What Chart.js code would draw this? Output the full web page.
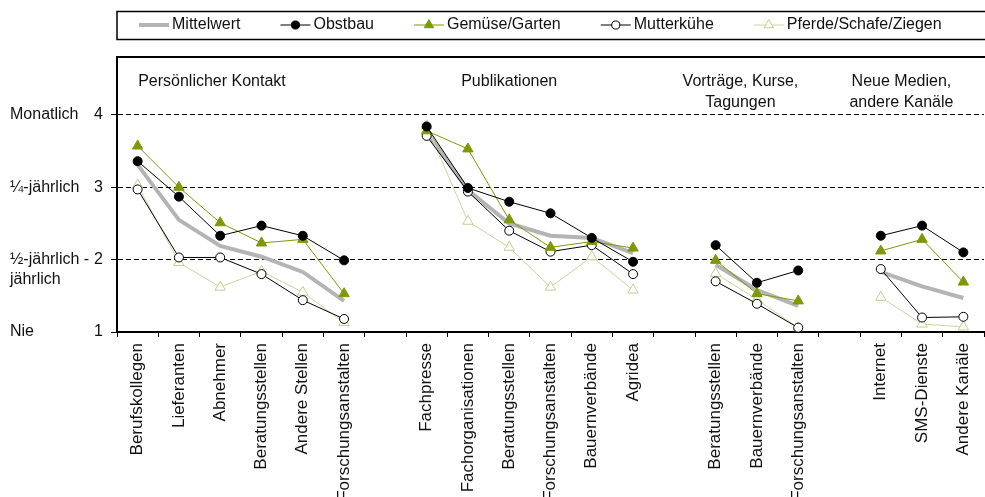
<!DOCTYPE html>
<html>
<head>
<meta charset="utf-8">
<script src="https://cdn.jsdelivr.net/npm/chart.js@4.4.1/dist/chart.umd.min.js"></script>
<style>
html,body{margin:0;padding:0;overflow:hidden;background:#fff}
canvas{display:block}
</style>
</head>
<body>
<canvas id="chart" width="991" height="497"></canvas>
<script>
// categories, '' = empty slot between the four groups
const labels = ['Berufskollegen','Lieferanten','Abnehmer','Beratungsstellen','Andere Stellen','Forschungsanstalten','',
  'Fachpresse','Fachorganisationen','Beratungsstellen','Forschungsanstalten','Bauernverbände','Agridea','',
  'Beratungsstellen','Bauernverbände','Forschungsanstalten','',
  'Internet','SMS-Dienste','Andere Kanäle'];

const mittelwert = [3.31,2.55,2.19,2.04,1.83,1.43,null, 3.77,2.96,2.50,2.33,2.30,2.09,null, 1.93,1.58,1.36,null, 1.83,1.63,1.47];
const obstbau    = [3.36,2.87,2.33,2.47,2.33,1.99,null, 3.84,2.99,2.80,2.64,2.30,1.97,null, 2.20,1.68,1.85,null, 2.33,2.47,2.10];
const gemuese    = [3.57,3.00,2.51,2.23,2.28,1.53,null, 3.78,3.53,2.55,2.17,2.25,2.16,null, 1.99,1.53,1.43,null, 2.12,2.28,1.69];
const mutterkuehe= [2.97,2.03,2.03,1.80,1.44,1.18,null, 3.71,2.94,2.40,2.11,2.20,1.80,null, 1.70,1.39,1.06,null, 1.87,1.20,1.21];
const pferde     = [3.03,1.96,1.62,1.84,1.55,1.13,null, 3.85,2.53,2.17,1.62,2.04,1.58,null, 1.81,1.45,1.06,null, 1.48,1.11,1.07];

const groupTitles = [['Persönlicher Kontakt'], ['Publikationen'], ['Vorträge, Kurse,', 'Tagungen'], ['Neue Medien,', 'andere Kanäle']];
const yTicks = [1, 2, 3, 4];
const yNames = [['Nie'], ['½-jährlich -', 'jährlich'], ['¼-jährlich'], ['Monatlich']];

const FONT = '"Liberation Sans", Arial, sans-serif';
const TXT = '#111';
Chart.defaults.font.family = FONT;

function marker(ctx, style, x, y, r, fill, stroke) {
  ctx.beginPath();
  if (style === 'triangle') {
    for (let k = 0; k < 3; k++) {
      const a = k * 2 * Math.PI / 3;
      const px = x + Math.sin(a) * r, py = y - Math.cos(a) * r;
      k ? ctx.lineTo(px, py) : ctx.moveTo(px, py);
    }
    ctx.closePath();
  } else {
    ctx.arc(x, y, r, 0, Math.PI * 2);
  }
  ctx.fillStyle = fill; ctx.fill();
  ctx.lineWidth = 1; ctx.strokeStyle = stroke; ctx.stroke();
}

// frame, legend box, group titles and the verbal y labels
const extras = {
  id: 'extras',
  afterDraw(chart) {
    const {ctx, chartArea: a, scales: {x, y}} = chart;
    ctx.save();
    ctx.strokeStyle = '#000';
    ctx.lineWidth = 2;
    ctx.beginPath(); ctx.moveTo(a.left, a.top); ctx.lineTo(chart.width, a.top); ctx.stroke();
    ctx.lineWidth = 1.5;
    ctx.strokeRect(a.left, 11.5, chart.width, 28);

    ctx.font = '16px ' + FONT;
    ctx.textBaseline = 'middle';
    ctx.textAlign = 'left';
    let cx = a.left + 22;
    chart.data.datasets.forEach(ds => {
      ctx.strokeStyle = ds.borderColor;
      ctx.lineWidth = ds.borderWidth;
      ctx.beginPath(); ctx.moveTo(cx, 25); ctx.lineTo(cx + 30, 25); ctx.stroke();
      if (ds.pointRadius) marker(ctx, ds.pointStyle, cx + 15, 25, ds.pointRadius * 0.9, ds.pointBackgroundColor, ds.pointBorderColor);
      ctx.fillStyle = TXT;
      ctx.fillText(ds.label, cx + 33, 25);
      cx += 33 + ctx.measureText(ds.label).width + 40;
    });

    ctx.textAlign = 'center';
    const anchors = [1.8, 9, 14.6, 18.5];
    groupTitles.forEach((lines, i) => {
      lines.forEach((t, j) => ctx.fillText(t, x.getPixelForValue(anchors[i]), 82 + j * 21));
    });

    ctx.textAlign = 'left';
    yNames.forEach((lines, i) => {
      lines.forEach((t, j) => ctx.fillText(t, 10, y.getPixelForValue(yTicks[i]) + j * 20));
    });
    ctx.restore();
  }
};

new Chart(document.getElementById('chart'), {
  type: 'line',
  data: {
    labels: labels,
    datasets: [
      {label: 'Mittelwert', data: mittelwert, borderColor: '#b4b4b4', borderWidth: 4, pointRadius: 0, order: 5},
      {label: 'Obstbau', data: obstbau, borderColor: '#000', borderWidth: 1, pointStyle: 'circle', pointRadius: 4.5,
        pointBackgroundColor: '#000', pointBorderColor: '#000', order: 1},
      {label: 'Gemüse/Garten', data: gemuese, borderColor: '#7b9a06', borderWidth: 1, pointStyle: 'triangle', pointRadius: 6,
        pointBackgroundColor: '#7b9a06', pointBorderColor: '#7b9a06', order: 2},
      {label: 'Mutterkühe', data: mutterkuehe, borderColor: '#000', borderWidth: 1, pointStyle: 'circle', pointRadius: 4.5,
        pointBackgroundColor: '#fff', pointBorderColor: '#000', order: 3},
      {label: 'Pferde/Schafe/Ziegen', data: pferde, borderColor: '#c9d69c', borderWidth: 1, pointStyle: 'triangle', pointRadius: 6,
        pointBackgroundColor: '#fff', pointBorderColor: '#c2d08e', order: 4}
    ]
  },
  options: {
    responsive: false,
    animation: false,
    spanGaps: false,
    elements: {line: {tension: 0, fill: false}, point: {borderWidth: 1}},
    layout: {padding: {top: 57, left: 0, right: 0, bottom: 0}},
    plugins: {legend: {display: false}, tooltip: {enabled: false}},
    scales: {
      x: {
        offset: true,
        grid: {display: true, offset: true, drawOnChartArea: false, tickLength: 5, tickColor: '#000'},
        border: {color: '#000', width: 2},
        ticks: {autoSkip: false, minRotation: 90, maxRotation: 90, padding: 6, color: TXT, font: {size: 17}},
        afterFit(s) { s.height = 165; s.paddingLeft = 0; s.paddingRight = 0; }
      },
      y: {
        min: 1, max: 4.8,
        afterBuildTicks(s) { s.ticks = yTicks.map(v => ({value: v})); },
        grid: {color: '#000', lineWidth: 1, tickLength: 6, tickColor: '#000'},
        border: {color: '#000', width: 2, dash: [5, 3]},
        ticks: {padding: 8, color: TXT, font: {size: 16}},
        afterFit(s) { s.width = 117; s.paddingTop = 0; s.paddingBottom = 0; }
      }
    }
  },
  plugins: [extras]
});
</script>
</body>
</html>
